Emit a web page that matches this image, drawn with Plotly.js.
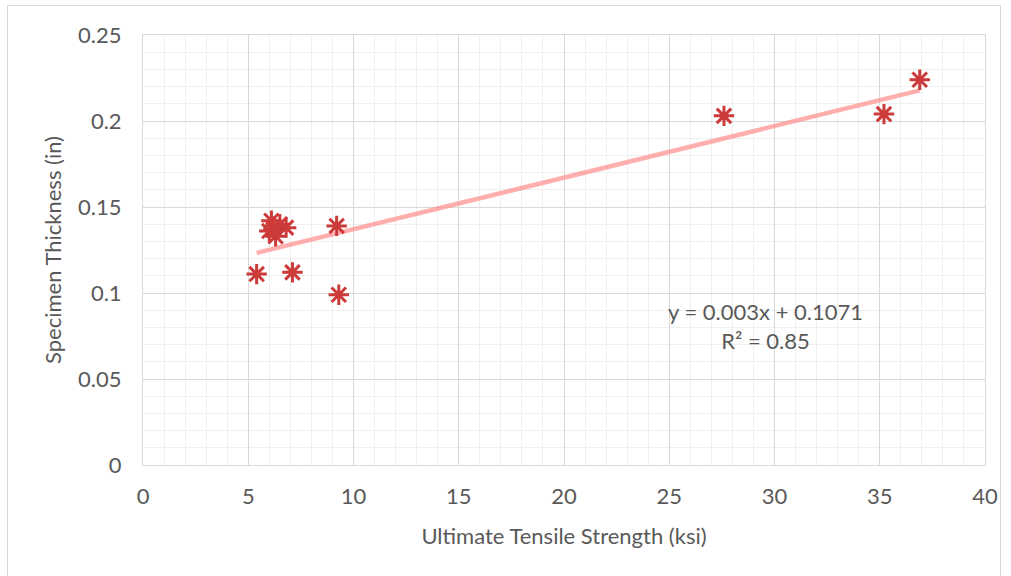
<!DOCTYPE html>
<html>
<head>
<meta charset="utf-8">
<script src="https://cdn.plot.ly/plotly-3.0.1.min.js"></script>
<style>
  html, body { margin:0; padding:0; background:#fff; }
  #frame { position:absolute; left:7px; top:5px; width:994px; height:580px; border-left:1px solid #d9d9d9; border-top:1px solid #d9d9d9; border-right:1px solid #d9d9d9; box-sizing:border-box; }
  #chart { position:absolute; left:0; top:0; width:1011px; height:576px; }
</style>
</head>
<body>
<div id="frame"></div>
<div id="chart"></div>
<script>
const strengthKsi = [5.4, 7.1, 9.3, 9.2, 6.1, 6.2, 6.5, 6.8, 6.3, 6.0, 27.6, 35.2, 36.9];
const thicknessIn = [0.111, 0.112, 0.099, 0.139, 0.142, 0.137, 0.140, 0.138, 0.133, 0.136, 0.203, 0.204, 0.224];
const trendSlope = 0.003;
const trendIntercept = 0.1071;
const trendLabel = "y = 0.003x + 0.1071<br>R² = 0.85";
const xTickVals = [0, 5, 10, 15, 20, 25, 30, 35, 40];
const yTickVals = [0, 0.05, 0.1, 0.15, 0.2, 0.25];
const yTickText = ["0", "0.05", "0.1", "0.15", "0.2", "0.25"];

const xMin = Math.min(...strengthKsi), xMax = Math.max(...strengthKsi);
const trendX = [xMin, xMax];
const trendY = trendX.map(v => trendSlope * v + trendIntercept);

const font = "Lato, 'Open Sans', sans-serif";
const txt = "#595959";
const fs = 22;

const traces = [
  { x: trendX, y: trendY, mode: "lines", type: "scatter",
    line: { color: "rgba(255,140,140,0.7)", width: 4.5 }, hoverinfo: "skip", showlegend: false },
  { x: strengthKsi, y: thicknessIn, mode: "markers", type: "scatter",
    marker: { symbol: "asterisk-open", size: 17, color: "#CC3A3A", line: { color: "#CC3A3A", width: 3 } },
    showlegend: false }
];

const layout = {
  width: 1011, height: 576,
  margin: { l: 143, r: 26, t: 35, b: 111 },
  paper_bgcolor: "rgba(0,0,0,0)", plot_bgcolor: "#fff",
  font: { family: font, color: txt, size: fs },
  xaxis: {
    range: [0, 40], tickvals: xTickVals, ticks: "", ticklabelstandoff: 12,
    showgrid: true, gridcolor: "#d9d9d9", gridwidth: 1,
    minor: { dtick: 1, showgrid: true, gridcolor: "#efefef", gridwidth: 1 },
    showline: true, linecolor: "#d9d9d9", mirror: true, zeroline: false,
    tickfont: { family: font, size: fs, color: txt },
    title: { text: "Ultimate Tensile Strength (ksi)", font: { family: font, size: fs, color: txt }, standoff: 20 },
    fixedrange: true
  },
  yaxis: {
    range: [0, 0.25], tickvals: yTickVals, ticktext: yTickText, ticks: "", ticklabelstandoff: 16,
    showgrid: true, gridcolor: "#d9d9d9", gridwidth: 1,
    minor: { dtick: 0.01, showgrid: true, gridcolor: "#efefef", gridwidth: 1 },
    showline: true, linecolor: "#d9d9d9", mirror: true, zeroline: false,
    tickfont: { family: font, size: fs, color: txt },
    title: { text: "Specimen Thickness (in)", font: { family: font, size: fs, color: txt }, standoff: 10 },
    fixedrange: true
  },
  annotations: [{
    x: 29.55, y: 0.0808, xref: "x", yref: "y", text: trendLabel, showarrow: false,
    font: { family: font, size: fs, color: txt }, align: "center", bgcolor: "rgba(255,255,255,0)"
  }]
};

Plotly.newPlot("chart", traces, layout, { displayModeBar: false, staticPlot: true });
</script>
</body>
</html>
